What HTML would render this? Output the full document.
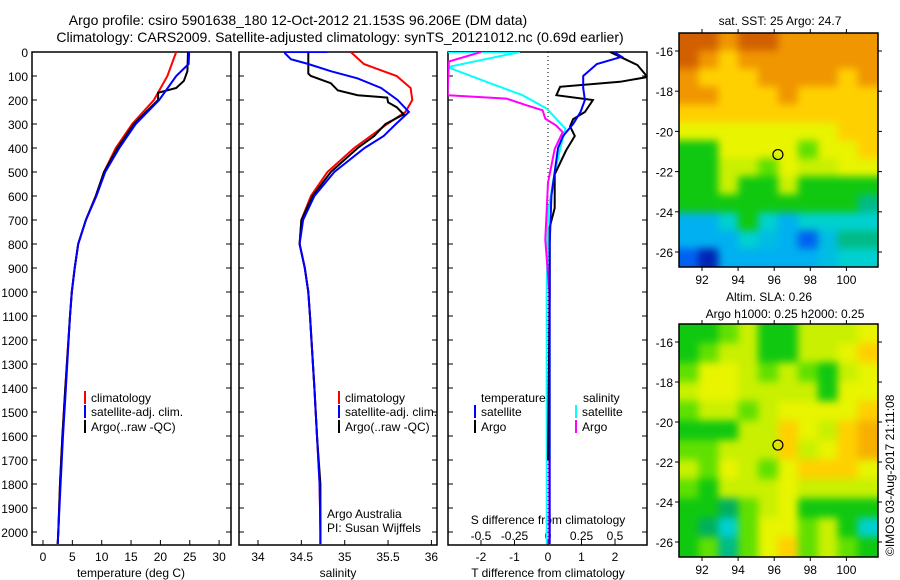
<!DOCTYPE html>
<html><head><meta charset="utf-8"><style>
body{margin:0;background:#fff}
svg{display:block;font-family:"Liberation Sans",sans-serif}
text{font-size:12px;fill:#000}
.blurred{filter:blur(4px)}
</style></head><body>
<svg id="c" width="900" height="580" viewBox="0 0 900 580">
<text x="298" y="25" text-anchor="middle" style="font-size:14px">Argo profile: csiro 5901638_180 12-Oct-2012 21.153S 96.206E (DM data)</text>
<text x="340" y="42" text-anchor="middle" style="font-size:14px">Climatology: CARS2009. Satellite-adjusted climatology: synTS_20121012.nc (0.69d earlier)</text>
<g id="g"></g>
</svg>
<script>
// ---- data ----
const depthTicks=[0,100,200,300,400,500,600,700,800,900,1000,1100,1200,1300,1400,1500,1600,1700,1800,1900,2000];
const tempTicks=[0,5,10,15,20,25,30];
const salTicks=[34,34.5,35,35.5,36];
const tdiffTicks=[-2,-1,0,1,2];
const sdiffTicks=[-0.5,-0.25,0,0.25,0.5];
const tArgoD=[0,80,120,150,170,200,300,400,500,600,700,800,900,1000,1100,1400,1600,1800,2000,2050];
const tArgoV=[24.7,24.6,24.0,22.7,19.6,19.6,15.5,12.7,10.4,9.0,7.3,6.0,5.4,4.9,4.6,3.8,3.3,2.9,2.6,2.5];
const tClimD=[0,100,200,300,400,500,600,700,800,900,1000,1100,1400,1600,1800,2000,2050];
const tClimV=[22.7,21.2,18.9,15.2,12.4,10.4,9.0,7.3,6.0,5.4,4.9,4.6,3.8,3.3,2.9,2.6,2.5];
const tSatD=[0,50,100,200,300,400,500,600,700,800,900,1000,1100,1400,1600,1800,2000,2050];
const tSatV=[24.9,24.8,22.7,19.8,15.8,13.0,10.6,9.1,7.3,6.0,5.4,4.9,4.6,3.9,3.4,3.0,2.6,2.5];
const sArgoD=[0,90,100,130,160,180,190,210,230,260,300,350,400,500,600,700,800,900,1000,1100,1400,1600,1800,2000,2050];
const sArgoV=[34.58,34.58,34.61,34.84,34.92,35.15,35.49,35.5,35.6,35.68,35.47,35.34,35.15,34.84,34.63,34.5,34.48,34.54,34.58,34.6,34.65,34.68,34.72,34.72,34.72];
const sClimD=[0,50,100,150,200,250,300,400,500,600,700,800,900,1000,1100,1400,1600,1800,2000,2050];
const sClimV=[35.07,35.22,35.6,35.76,35.78,35.7,35.49,35.11,34.8,34.61,34.5,34.48,34.54,34.58,34.6,34.65,34.68,34.71,34.72,34.72];
const sSatD=[0,0,5,30,50,80,110,150,200,250,300,350,400,500,600,700,800,900,1000,1100,1400,1600,1800,2000,2050];
const sSatV=[34.8,34.31,34.31,34.38,34.58,34.84,35.15,35.42,35.61,35.74,35.59,35.45,35.23,34.88,34.65,34.52,34.48,34.54,34.58,34.6,34.65,34.68,34.71,34.72,34.72];
const dTSatD=[0,20,50,100,150,200,250,300,350,400,500,600,800,1000,1500,2050];
const dTSatV=[1.97,2.2,1.46,1.05,1.05,1.1,0.97,0.75,0.45,0.3,0.2,0.1,0.05,0.05,0.05,0.05];
const dTArgoD=[0,54,104,124,145,180,200,250,280,310,350,410,510,650,730,1000,1700];
const dTArgoV=[1.85,2.67,2.97,2.15,0.36,0.25,1.34,1.1,0.75,0.66,0.8,0.54,0.2,0.2,0.05,0.05,0.0];
const dSSatD=[0,0,63,124,180,236,320,404,530,670,1000,2050];
const dSSatV=[-0.75,-0.21,-0.75,-0.46,-0.19,-0.01,0.13,0.09,0.04,0,-0.01,-0.01];
const dSArgoD=[0,40,180,194,222,243,278,306,334,404,544,782,1000,2050];
const dSArgoV=[-0.5,-0.74,-0.75,-0.31,-0.16,-0.04,-0.02,0.06,0.11,0.05,0,-0.02,0.01,0.01];
const lonTicks=[92,94,96,98,100];
const latTicks=[-16,-18,-20,-22,-24,-26];
const sstGrid=[
[6,6,5,6,6,5,5,5,5,5],[6,5,4,5,5,5,5,5,5,5],[5,4,4,4,5,5,5,5,4,5],[5,5,4,4,4,5,4,4,4,4],
[4,4,4,4,4,4,4,4,4,4],[3.5,3.5,3.5,3.5,3.5,3.5,3.5,3.5,4,4],[2,2,3.5,3.5,3.5,3.5,2.5,3.5,3.5,4],
[2,2,3,3,2.5,3.5,3,3,3.5,3.5],[2,2,3,2,2,3,2,2,2,2],[2,2,2,2,2,2,2,2,2,1.7],
[1,1,1.5,2,1.5,1,1.5,1.5,1.5,1.5],[1,1,1,1.5,1.2,1,0.8,1.2,1.7,1.7],[0.8,0.2,1,1,1,1,1,1.2,1.5,1.5]];
const slaGrid=[
[2,2,2.5,3,2,2,3,3,3,3.5],[2,2.5,3,3,2,2,3,3,3.5,4],[2.5,3.5,3.5,3,2.5,3,2.5,2,3,3.5],
[3,3.5,3.5,3,3,3,3,2,3.5,3.5],[2.5,3,3,2.5,3,3.5,3.5,3.5,3.5,4],[2,2,2,3,3,4,3.5,3,4,4.5],
[2.5,2.5,3,3,3,4,3,3.5,4,4.5],[3,2.5,3.5,3,2.5,3.5,4,4,4,3.5],[2.5,2,3,3,3,3.5,3,3,3,3],
[2,2,1.8,2.5,3,3.5,2,2,2,2],[2,1.8,1.5,2.5,3.5,3.5,2.5,3,2,1.5],[2,2.5,1.7,2.5,3.5,4,2.5,3,2.5,2]];

// ---- helpers ----
const NS="http://www.w3.org/2000/svg", G=document.getElementById('g');
function mk(t,a,p){const e=document.createElementNS(NS,t);for(const k in a)e.setAttribute(k,a[k]);(p||G).appendChild(e);return e;}
const yD=d=>52+d*0.24;
const xT=t=>43+t*5.87, xS=s=>258+(s-34)*86.7, xDT=t=>548+t*33.5, xDS=s=>548+s*134;
function line(ds,vs,fx,col,name,clip){
  const pts=ds.map((d,i)=>fx(vs[i]).toFixed(1)+','+yD(d).toFixed(1)).join(' ');
  const e=mk('polyline',{points:pts,fill:'none',stroke:col,'stroke-width':2});
  if(clip)e.setAttribute('clip-path','url(#'+clip+')');
  
  
}
function txt(x,y,s,anchor,name,size){const e=mk('text',{x:x,y:y,'text-anchor':anchor||'start'});if(size)e.style.fontSize=size+'px';e.textContent=s;
  
  return e;}
const defs=mk('defs',{});
[['cp1',32,231],['cp2',239,437],['cp3',448,647]].forEach(c=>{const cp=mk('clipPath',{id:c[0]},defs);mk('rect',{x:c[1],y:52,width:c[2]-c[1],height:493},cp);});

// ---- panels ----
const panels=[[32,231,'temperature-panel'],[239,437,'salinity-panel'],[448,647,'difference-panel']];
panels.forEach(p=>{
  const r=mk('rect',{x:p[0],y:52,width:p[1]-p[0],height:493,fill:'none',stroke:'#000','stroke-width':1.5});
  
  
  depthTicks.forEach(d=>{mk('line',{x1:p[0],x2:p[0]+5,y1:yD(d),y2:yD(d),stroke:'#000'});mk('line',{x1:p[1]-5,x2:p[1],y1:yD(d),y2:yD(d),stroke:'#000'});});
});
depthTicks.forEach(d=>txt(28,yD(d)+5,String(d),'end','depth-tick-label'));
tempTicks.forEach(t=>{mk('line',{x1:xT(t),x2:xT(t),y1:545,y2:540,stroke:'#000'});txt(xT(t),561,String(t),'middle','temperature-tick-label');});
salTicks.forEach(s=>{mk('line',{x1:xS(s),x2:xS(s),y1:545,y2:540,stroke:'#000'});txt(xS(s),561,String(s),'middle','salinity-tick-label');});
tdiffTicks.forEach(t=>{mk('line',{x1:xDT(t),x2:xDT(t),y1:545,y2:540,stroke:'#000'});txt(xDT(t),561,String(t),'middle','tdiff-tick-label');});
sdiffTicks.forEach(s=>txt(xDS(s),540,String(s),'middle','sdiff-tick-label'));
txt(131,577,'temperature (deg C)','middle','temperature-axis-title');
txt(338,577,'salinity','middle','salinity-axis-title');
txt(548,577,'T difference from climatology','middle','tdiff-axis-title');
txt(548,524,'S difference from climatology','middle','sdiff-axis-title');
const zl=mk('line',{x1:548,x2:548,y1:52,y2:545,stroke:'#000','stroke-dasharray':'1,3'});


line(tClimD,tClimV,xT,'#f00','temp-climatology-line','cp1');
line(tArgoD,tArgoV,xT,'#000','temp-argo-line','cp1');
line(tSatD,tSatV,xT,'#00f','temp-satellite-line','cp1');
line(sClimD,sClimV,xS,'#f00','sal-climatology-line','cp2');
line(sArgoD,sArgoV,xS,'#000','sal-argo-line','cp2');
line(sSatD,sSatV,xS,'#00f','sal-satellite-line','cp2');
line(dSSatD,dSSatV,xDS,'#0ff','sdiff-satellite-line','cp3');
line(dSArgoD,dSArgoV,xDS,'#f0f','sdiff-argo-line','cp3');
line(dTArgoD,dTArgoV,xDT,'#000','tdiff-argo-line','cp3');
line(dTSatD,dTSatV,xDT,'#00f','tdiff-satellite-line','cp3');

function leg(x,y,col,label,name){mk('rect',{x:x,y:y-11,width:2,height:13,fill:col});txt(x+7,y,label,'start',name);}
leg(84,402,'#f00','climatology','legend-climatology');
leg(84,416,'#00f','satellite-adj. clim.','legend-satellite');
leg(84,431,'#000','Argo(..raw -QC)','legend-argo');
leg(338,402,'#f00','climatology','legend-climatology-2');
leg(338,416,'#00f','satellite-adj. clim.','legend-satellite-2');
leg(338,431,'#000','Argo(..raw -QC)','legend-argo-2');
txt(481,402,'temperature','start','legend-temperature-header');
txt(583,402,'salinity','start','legend-salinity-header');
leg(474,416,'#00f','satellite','legend-t-satellite');
leg(474,431,'#000','Argo','legend-t-argo');
leg(575,416,'#0ff','satellite','legend-s-satellite');
leg(575,431,'#f0f','Argo','legend-s-argo');
txt(327,518,'Argo Australia','start','credit-argo-australia');
txt(327,532,'PI: Susan Wijffels','start','credit-pi');

// ---- maps ----
const stops=[[0,[0,16,160]],[0.8,[0,96,240]],[1,[0,176,240]],[1.5,[0,208,208]],[1.8,[0,176,96]],[2,[16,200,16]],[2.5,[96,224,0]],[3,[200,240,0]],[3.5,[232,244,0]],[4,[255,208,0]],[4.5,[248,176,0]],[5,[240,150,0]],[6,[210,96,0]]];
function cmap(v){for(let i=1;i<stops.length;i++){if(v<=stops[i][0]){const a=stops[i-1],b=stops[i],f=(v-a[0])/(b[0]-a[0]);return 'rgb('+a[1].map((c,k)=>Math.round(c+(b[1][k]-c)*f)).join(',')+')';}}return 'rgb(210,96,0)';}
function map(y0,y1,grid,name){
  const x0=679,x1=878, xL=lo=>702+(lo-92)*18.05, yL=(la)=>(y0+18)+(-16-la)*((y1-y0-33)/10);
  const cp=mk('clipPath',{id:name+'-clip'},defs);mk('rect',{x:x0,y:y0,width:x1-x0,height:y1-y0},cp);
  const g=mk('g',{'clip-path':'url(#'+name+'-clip)'});
  const g2=mk('g',{'class':'blurred'},g);
  const rows=grid.length, cols=grid[0].length, cw=(x1-x0)/cols, ch=(y1-y0)/rows;
  grid.forEach((row,r)=>row.forEach((v,c)=>{
    const ex0=c===0?-12:0, ex1=c===cols-1?12:0, ey0=r===0?-12:0, ey1=r===rows-1?12:0;
    const e=mk('rect',{x:x0+c*cw-0.5+ex0,y:y0+r*ch-0.5+ey0,width:cw+1-ex0+ex1,height:ch+1-ey0+ey1,fill:cmap(v)},g2);
    
    
  }));
  const fr=mk('rect',{x:x0,y:y0,width:x1-x0,height:y1-y0,fill:'none',stroke:'#000','stroke-width':1.5});
  
  lonTicks.forEach(lo=>{mk('line',{x1:xL(lo),x2:xL(lo),y1:y0,y2:y0-4,stroke:'#000'});mk('line',{x1:xL(lo),x2:xL(lo),y1:y1,y2:y1+4,stroke:'#000'});txt(xL(lo),y1+17,String(lo),'middle','lon-tick-label');});
  latTicks.forEach(la=>{mk('line',{x1:x0,x2:x0-4,y1:yL(la),y2:yL(la),stroke:'#000'});mk('line',{x1:x1,x2:x1+4,y1:yL(la),y2:yL(la),stroke:'#000'});txt(x0-6,yL(la)+5,String(la),'end','lat-tick-label');});
  const ci=mk('circle',{cx:xL(96.206),cy:yL(-21.153),r:5,fill:'none',stroke:'#000','stroke-width':1.2});
  
}
map(33,267,sstGrid,'sst-map');
map(324,557,slaGrid,'sla-map');
txt(780,25,'sat. SST: 25 Argo: 24.7','middle','sst-map-title');
txt(769,301,'Altim. SLA: 0.26','middle','sla-map-title');
txt(785,318,'Argo h1000: 0.25 h2000: 0.25','middle','sla-map-subtitle');
const im=txt(0,0,'©IMOS 03-Aug-2017 21:11:08','start','imos-timestamp');
im.setAttribute('transform','translate(894,556) rotate(-90)');
</script>
</body></html>
